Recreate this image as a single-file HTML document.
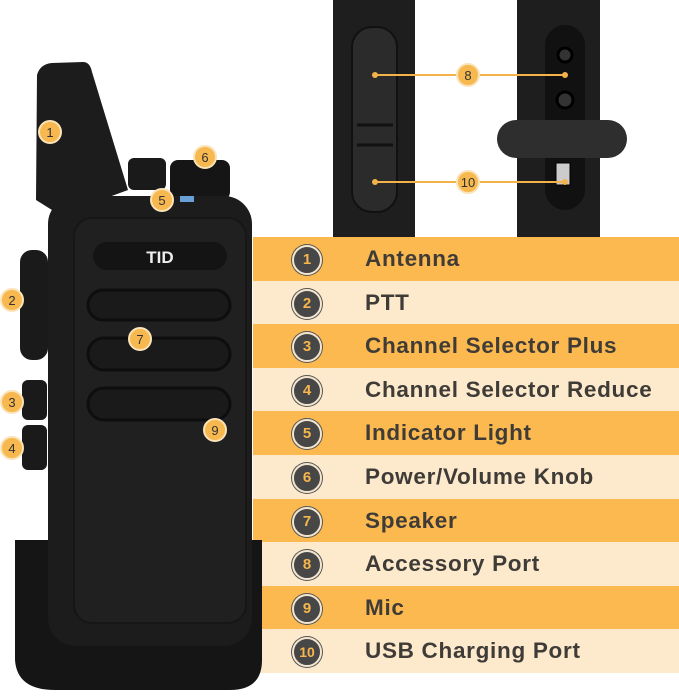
<!DOCTYPE html>
<html><head><style>
body{margin:0;width:679px;height:697px;background:#fff;overflow:hidden;position:relative;font-family:"Liberation Sans",sans-serif}
.row{position:absolute;left:253px;width:426px;height:43.6px}
.o{background:#fbb94f}.l{background:#fde9cc}
.num{position:absolute;left:292px;width:26px;height:26px;border-radius:50%;background:#474747;border:2px solid #f4e6cf;box-shadow:0 0 0 1px #555;color:#f7b64b;font-weight:bold;font-size:15px;text-align:center;line-height:26px}
.t{position:absolute;left:365px;font-weight:bold;font-size:22.5px;letter-spacing:0.7px;color:#3f3c38;line-height:44px}
</style></head><body>
<div class="row o" style="top:237px"></div>
<div class="row l" style="top:280.6px"></div>
<div class="row o" style="top:324.2px"></div>
<div class="row l" style="top:367.8px"></div>
<div class="row o" style="top:411.4px"></div>
<div class="row l" style="top:455px"></div>
<div class="row o" style="top:498.6px"></div>
<div class="row l" style="top:542.2px"></div>
<div class="row o" style="top:585.8px"></div>
<div class="row l" style="top:629.4px"></div>

<svg width="679" height="697" style="position:absolute;left:0;top:0">
<rect x="333" y="0" width="82" height="237" fill="#1e1e1e"/>
<rect x="352" y="27" width="45" height="185" rx="20" fill="#2b2b2b" stroke="#111" stroke-width="2"/>
<line x1="357" y1="125" x2="393" y2="125" stroke="#111" stroke-width="3"/>
<line x1="357" y1="145" x2="393" y2="145" stroke="#111" stroke-width="3"/>
<rect x="517" y="0" width="83" height="237" fill="#1e1e1e"/>
<rect x="545" y="25" width="40" height="185" rx="20" fill="#111"/>
<circle cx="565" cy="55" r="7" fill="#333" stroke="#000" stroke-width="3"/>
<circle cx="565" cy="100" r="8" fill="#333" stroke="#000" stroke-width="3"/>
<rect x="497" y="120" width="130" height="38" rx="19" fill="#2e2e2e"/>
<rect x="556" y="163" width="14" height="22" fill="#ccc" stroke="#000"/>
<line x1="375" y1="75" x2="565" y2="75" stroke="#f4b34a" stroke-width="2"/>
<line x1="375" y1="182" x2="565" y2="182" stroke="#f4b34a" stroke-width="2"/>
<circle cx="375" cy="75" r="3" fill="#f4b34a"/><circle cx="565" cy="75" r="3" fill="#f4b34a"/>
<circle cx="375" cy="182" r="3" fill="#f4b34a"/><circle cx="565" cy="182" r="3" fill="#f4b34a"/>
<path d="M36,200 L37,75 Q40,64 52,63 L83,62 Q90,62 92,72 L128,190 L60,215 Z" fill="#1c1c1c"/>
<rect x="128" y="158" width="38" height="32" rx="6" fill="#1a1a1a"/>
<rect x="170" y="160" width="60" height="40" rx="8" fill="#151515"/>
<path d="M15,540 L15,660 Q17,690 55,690 L230,690 Q262,690 262,660 L262,540 Z" fill="#151515"/>
<rect x="20" y="250" width="28" height="110" rx="12" fill="#1a1a1a"/>
<rect x="22" y="380" width="25" height="40" rx="6" fill="#1a1a1a"/>
<rect x="22" y="425" width="25" height="45" rx="6" fill="#1a1a1a"/>
<rect x="48" y="196" width="204" height="450" rx="28" fill="#1c1c1c"/>
<rect x="74" y="218" width="172" height="405" rx="18" fill="#202020" stroke="#161616" stroke-width="2"/>
<rect x="93" y="242" width="134" height="28" rx="14" fill="#141414"/>
<text x="160" y="263" font-size="17" font-weight="bold" fill="#eee" text-anchor="middle" font-family="Liberation Sans">TID</text>
<rect x="88" y="290" width="142" height="30" rx="15" fill="#1a1a1a" stroke="#0e0e0e" stroke-width="3"/>
<rect x="88" y="338" width="142" height="32" rx="16" fill="#1a1a1a" stroke="#0e0e0e" stroke-width="3"/>
<rect x="88" y="388" width="142" height="32" rx="16" fill="#1a1a1a" stroke="#0e0e0e" stroke-width="3"/>
<rect x="180" y="196" width="14" height="6" fill="#6aa0d8"/>
<g fill="#f7b94f" stroke="#fbe3b8" stroke-width="2">
<circle cx="50" cy="132" r="11"/><circle cx="12" cy="300" r="11"/><circle cx="12" cy="402" r="11"/><circle cx="12" cy="448" r="11"/>
<circle cx="162" cy="200" r="11"/><circle cx="205" cy="157" r="11"/><circle cx="140" cy="339" r="11"/><circle cx="215" cy="430" r="11"/>
<circle cx="468" cy="75" r="11"/><circle cx="468" cy="182" r="11"/>
</g>
<g fill="#333" font-family="Liberation Sans" font-size="13" text-anchor="middle">
<text x="50" y="137">1</text><text x="12" y="305">2</text><text x="12" y="407">3</text><text x="12" y="453">4</text>
<text x="162" y="205">5</text><text x="205" y="162">6</text><text x="140" y="344">7</text><text x="215" y="435">9</text>
<text x="468" y="80">8</text><text x="468" y="187">10</text>
</g>
</svg>

<div class="num" style="top:245px">1</div><div class="t" style="top:237px">Antenna</div>
<div class="num" style="top:289px">2</div><div class="t" style="top:281px">PTT</div>
<div class="num" style="top:332px">3</div><div class="t" style="top:324px">Channel Selector Plus</div>
<div class="num" style="top:376px">4</div><div class="t" style="top:368px">Channel Selector Reduce</div>
<div class="num" style="top:419px">5</div><div class="t" style="top:411px">Indicator Light</div>
<div class="num" style="top:463px">6</div><div class="t" style="top:455px">Power/Volume Knob</div>
<div class="num" style="top:507px">7</div><div class="t" style="top:499px">Speaker</div>
<div class="num" style="top:550px">8</div><div class="t" style="top:542px">Accessory Port</div>
<div class="num" style="top:594px">9</div><div class="t" style="top:586px">Mic</div>
<div class="num" style="top:637px;font-size:14px">10</div><div class="t" style="top:629px">USB Charging Port</div>
</body></html>
